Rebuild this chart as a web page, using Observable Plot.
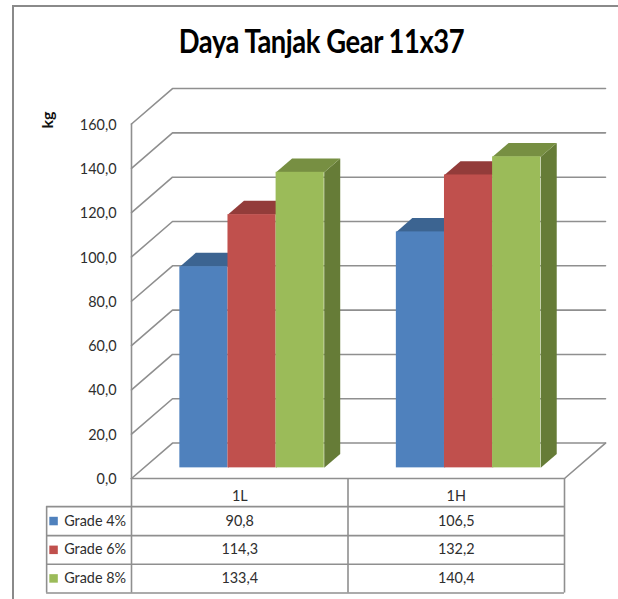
<!DOCTYPE html>
<html><head><meta charset="utf-8">
<script src="https://cdn.jsdelivr.net/npm/d3@7"></script>
<script src="https://cdn.jsdelivr.net/npm/@observablehq/plot@0.6"></script>
<style>
html,body{margin:0;padding:0;background:#fff;width:618px;height:599px;overflow:hidden}
#wrap{position:relative;width:618px;height:599px}
#frame{position:absolute;left:12px;top:5px;right:0;bottom:0;border-left:2px solid #8a8a8a;border-top:2px solid #8a8a8a;pointer-events:none}
#title{height:60px;box-sizing:border-box;padding:22px 0 0 0;margin:0 0 0 25px;text-align:center;font:700 32px/38px Lato,sans-serif;color:#000;position:relative;letter-spacing:-.5px;transform:scaleX(.855)}
svg{display:block}
</style></head><body>
<div id="wrap"><div id="frame"></div><div id="title">Daya Tanjak Gear 11x37</div><div id="chart"></div></div>
<script>
const categories = ["1L", "1H"];
const seriesNames = ["Grade 4%", "Grade 6%", "Grade 8%"];
const grade4 = [90.8, 106.5];
const grade6 = [114.3, 132.2];
const grade8 = [133.4, 140.4];
const yTicks = [0, 20, 40, 60, 80, 100, 120, 140, 160];
const frontColors = ["#4f81bd", "#c0504d", "#9bbb59"];
const topColors = ["#3c6491", "#933c3a", "#778f42"];
const sideColors = ["#375c86", "#7d3331", "#667c37"];

const seriesValues = [grade4, grade6, grade8];
const comma = v => v.toFixed(1).replace(".", ",");

// Oblique projection: depth vector of the whole floor, in scale units
const depthX = 0.1894, depthY = 16;
const depthFront = 0.30, depthBack = 0.69;
const gap = 0.1665, barW = 0.2223;
const project = (x, y, d) => ({x: x + d * depthX, y: y + d * depthY});

const bars = [], faces = [];
seriesValues.forEach((vals, s) => vals.forEach((v, c) => {
  const x1 = c + gap + s * barW, x2 = x1 + barW;
  const f = project(x1, 0, depthFront), g = project(x2, v, depthFront);
  bars.push({x1: f.x, x2: g.x, y1: f.y, y2: g.y, color: frontColors[s]});
  const side = [project(x2,0,depthFront), project(x2,0,depthBack), project(x2,v,depthBack), project(x2,v,depthFront)];
  const top = [project(x1,v,depthFront), project(x2,v,depthFront), project(x2,v,depthBack), project(x1,v,depthBack)];
  side.forEach(p => faces.push({...p, id:`s${s}${c}`, color: sideColors[s]}));
  top.forEach(p => faces.push({...p, id:`t${s}${c}`, color: topColors[s]}));
}));

// gridlines on left wall and back wall, plus floor edges
const wall = [];
yTicks.forEach(v => {
  [project(0,v,0), project(0,v,1), project(2,v,1)].forEach(p => wall.push({...p, id:`g${v}`}));
});
[project(0,0,0), project(2,0,0), project(2,0,1)].forEach(p => wall.push({...p, id:"floor"}));
[project(0,0,0), project(0,160,0)].forEach(p => wall.push({...p, id:"axis"}));

// data table under the axis, in y-scale units below zero
const tableLeft = -0.392;
const rowLines = [-12.7, -25.8, -38.7, -51.7];
const rowCentres = [-19.2, -32.2, -45.1];
const headerY = -8.2;
const tableCells = [];
seriesValues.forEach((vals, s) => vals.forEach((v, c) => tableCells.push({x: c + 0.5, y: rowCentres[s], t: comma(v)})));
const headerCells = categories.map((t, c) => ({x: c + 0.5, y: headerY, t}));
const legendRows = seriesNames.map((t, s) => ({t, y: rowCentres[s], color: frontColors[s]}));

const lineColor = "#8f8f8f", textColor = "#2e2e2e";
const fs = 14.4;
const plot = Plot.plot({
  width: 618, height: 539,
  marginLeft: 131, marginRight: 54, marginTop: 63.5, marginBottom: 121,
  x: {domain: [0, 2], axis: null},
  y: {domain: [0, 160], axis: null},
  color: {type: "identity"},
  style: {fontFamily: "Lato, sans-serif", background: "transparent", overflow: "visible"},
  marks: [
    Plot.line(wall, {x: "x", y: "y", z: "id", stroke: lineColor, strokeWidth: 1.6}),
    Plot.axisY(yTicks, {anchor: "left", tickSize: 0, tickPadding: 15, tickFormat: comma, fontSize: fs, fill: textColor, label: null, dy: 1}),
    Plot.line(faces, {x: "x", y: "y", z: "id", fill: "color", stroke: "none"}),
    Plot.rect(bars, {x1: "x1", x2: "x2", y1: "y1", y2: "y2", fill: "color"}),
    Plot.text(["kg"], {x: -0.385, y: 161.8, text: d => d, rotate: -90, fontWeight: 700, fontSize: 16, fill: "#111"}),
    Plot.ruleX([0, 1, 2], {y1: 0, y2: rowLines[3], stroke: lineColor, strokeWidth: 1.6}),
    Plot.ruleX([tableLeft], {y1: rowLines[0], y2: rowLines[3], stroke: lineColor, strokeWidth: 1.6}),
    Plot.ruleY(rowLines, {x1: tableLeft, x2: 2, stroke: lineColor, strokeWidth: 1.6}),
    Plot.text(headerCells, {x: "x", y: "y", text: "t", fontSize: fs, fill: textColor}),
    Plot.text(tableCells, {x: "x", y: "y", text: "t", fontSize: fs, fill: textColor}),
    Plot.dot(legendRows, {x: tableLeft + 0.032, y: "y", symbol: "square", r: 4.8, fill: "color"}),
    Plot.text(legendRows, {x: tableLeft + 0.081, y: "y", text: "t", textAnchor: "start", fontSize: fs, fill: textColor})
  ]
});
document.getElementById("chart").appendChild(plot);
</script>
</body></html>
